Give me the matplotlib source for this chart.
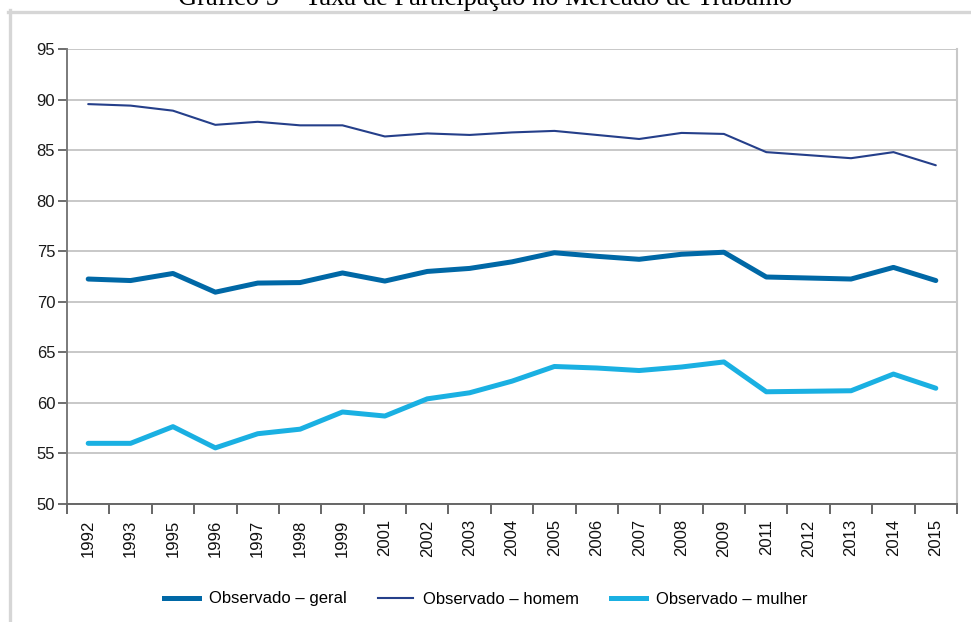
import matplotlib
matplotlib.use("Agg")
import matplotlib.pyplot as plt
from matplotlib.lines import Line2D
from matplotlib import font_manager
import numpy as np

years = ["1992", "1993", "1995", "1996", "1997", "1998", "1999", "2001", "2002", "2003", "2004",
         "2005", "2006", "2007", "2008", "2009", "2011", "2012", "2013", "2014", "2015"]
geral = [72.25, 72.1, 72.8, 70.95, 71.85, 71.9, 72.85, 72.05, 73.0, 73.3, 73.95,
         74.85, 74.5, 74.2, 74.7, 74.9, 72.45, 72.35, 72.25, 73.4, 72.1]
homem = [89.55, 89.4, 88.9, 87.5, 87.8, 87.45, 87.45, 86.35, 86.65, 86.5, 86.75,
         86.9, 86.5, 86.1, 86.7, 86.6, 84.8, 84.5, 84.2, 84.8, 83.5]
mulher = [56.0, 56.0, 57.65, 55.55, 56.95, 57.4, 59.1, 58.7, 60.4, 61.0, 62.15,
          63.6, 63.45, 63.2, 63.55, 64.05, 61.1, 61.15, 61.2, 62.85, 61.45]
yticks = [50, 55, 60, 65, 70, 75, 80, 85, 90, 95]
title = "Gráfico 5 – Taxa de Participação no Mercado de Trabalho"
labels = ["Observado – geral", "Observado – homem", "Observado – mulher"]

names = {f.name for f in font_manager.fontManager.ttflist}
sans = "Liberation Sans" if "Liberation Sans" in names else "DejaVu Sans"
serif = "Liberation Serif" if "Liberation Serif" in names else "DejaVu Serif"

W, H = 971, 622
fig = plt.figure(figsize=(W / 100, H / 100), dpi=100)
fig.patch.set_facecolor("white")

L, R, T, B = 67, 957, 49, 504
ax = fig.add_axes([L / W, 1 - B / H, (R - L) / W, (B - T) / H])

n = len(years)
x = np.arange(n)
ax.plot(x, homem, color="#253F8A", lw=1.5, solid_capstyle="round", zorder=3)
ax.plot(x, geral, color="#0068A6", lw=3.6, solid_capstyle="round", zorder=4)
ax.plot(x, mulher, color="#1AB0E2", lw=3.6, solid_capstyle="round", zorder=3)

ax.set_xlim(-0.5, n - 0.5)
ax.set_ylim(50, 95)
ax.set_yticks(yticks)
ax.set_yticklabels([str(v) for v in yticks], fontsize=12, family=sans, color="#1a1a1a")
ax.set_xticks(x)
ax.set_xticklabels(years, rotation=90, fontsize=12, family=sans, color="#111111", va="top", ha="center")
ax.set_xticks(np.arange(-0.5, n, 1.0), minor=True)
ax.tick_params(axis="x", which="major", length=0, pad=11)
ax.tick_params(axis="x", which="minor", length=7, width=1.4, color="#666666", direction="out")
ax.tick_params(axis="y", which="major", length=6.5, width=1.2, color="#555555", direction="out", pad=2)

ax.grid(axis="y", color="#C4C4C4", lw=1.3, zorder=0)
ax.set_axisbelow(True)
ax.spines["top"].set_visible(False)
ax.spines["right"].set_color("#C8C8C8")
ax.spines["right"].set_linewidth(1.5)
ax.spines["left"].set_color("#7A7A7A")
ax.spines["left"].set_linewidth(1.4)
ax.spines["bottom"].set_color("#666666")
ax.spines["bottom"].set_linewidth(1.4)

# outer frame (grey)
fig.add_artist(Line2D([8 / W, 1], [1 - 11.5 / H, 1 - 11.5 / H], transform=fig.transFigure,
                      color="#D6D6D6", lw=2.4))
fig.add_artist(Line2D([9.5 / W, 9.5 / W], [1 - 10 / H, 0], transform=fig.transFigure,
                      color="#D6D6D6", lw=2.4))

# title (clipped at top, as in the reference)
t = fig.text(0.5, 1 - 5 / H, title, ha="center", va="baseline", family=serif, fontsize=17, color="black")
fig.canvas.draw()
w = t.get_window_extent().width
t.set_fontsize(17 * 615 / w)

handles = [Line2D([], [], color="#0068A6", lw=3.6),
           Line2D([], [], color="#253F8A", lw=1.5),
           Line2D([], [], color="#1AB0E2", lw=3.6)]
fig.legend(handles, labels, loc="center", bbox_to_anchor=(0.5, 1 - 599 / H), ncol=3, frameon=False,
           prop={"family": sans, "size": 12}, handlelength=2.1, handletextpad=0.6, columnspacing=1.9)

fig.savefig("out.png", dpi=100, facecolor="white")
